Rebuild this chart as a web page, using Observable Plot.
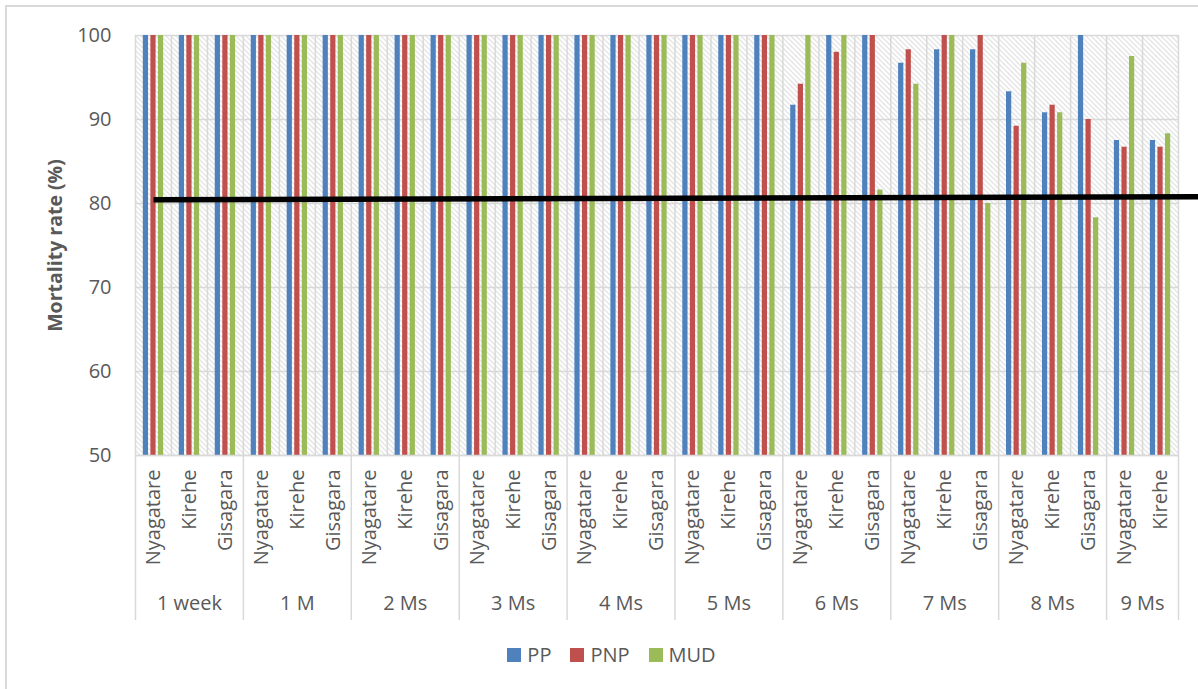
<!DOCTYPE html>
<html>
<head>
<meta charset="utf-8">
<script src="https://cdn.jsdelivr.net/npm/d3@7"></script>
<script src="https://cdn.jsdelivr.net/npm/@observablehq/plot@0.6"></script>
<style>
  body { margin: 0; background: #fff; overflow: hidden; font-family: "Open Sans", sans-serif; }
  #chart svg { display: block; }
  #legend { display: flex; justify-content: center; padding-left: 44px; margin-top: 3px; }
  .lg-swatch { margin-right: 19px !important; }
  .lg-swatch > svg { margin-right: 6px !important; }
  #border { position: absolute; left: 5px; top: 5px; width: 1400px; height: 900px;
            border-left: 2px solid #d9d9d9; border-top: 2px solid #d9d9d9; pointer-events: none; }
</style>
</head>
<body>
<div id="chart"></div>
<div id="legend"></div>
<div id="border"></div>
<script>
// Survey periods and the sites reported in each
const periods = ["1 week", "1 M", "2 Ms", "3 Ms", "4 Ms", "5 Ms", "6 Ms", "7 Ms", "8 Ms", "9 Ms"];
const sites = ["Nyagatare", "Kirehe", "Gisagara"];
const sitesReported = [3, 3, 3, 3, 3, 3, 3, 3, 3, 2];

// Treatments and their colours
const series = ["PP", "PNP", "MUD"];
const colors = ["#4F81BD", "#C0504D", "#9BBB59"];

// Mortality rate (%) per period/site, in category order
const pp = [100, 100, 100, 100, 100, 100, 100, 100, 100, 100, 100, 100, 100, 100, 100, 100, 100, 100,
            91.7, 100, 100, 96.7, 98.3, 98.3, 93.3, 90.8, 100, 87.5, 87.5];
const pnp = [100, 100, 100, 100, 100, 100, 100, 100, 100, 100, 100, 100, 100, 100, 100, 100, 100, 100,
             94.2, 98.0, 100, 98.3, 100, 100, 89.2, 91.7, 90.0, 86.7, 86.7];
const mud = [100, 100, 100, 100, 100, 100, 100, 100, 100, 100, 100, 100, 100, 100, 100, 100, 100, 100,
             100, 100, 81.6, 94.2, 100, 80.0, 96.7, 90.8, 78.3, 97.5, 88.3];

// Value axis
const yDomain = [50, 100];
const yTicks = [50, 60, 70, 80, 90, 100];

// Reference line (slightly sloped, hand-placed threshold near 80%)
const thresholdStart = 80.45;
const thresholdEnd = 80.8;

// ---- build tables ----
const categories = [];
periods.forEach((p, g) => {
  sites.slice(0, sitesReported[g]).forEach(s => categories.push({period: p, site: s, group: g, index: categories.length}));
});
const nCat = categories.length;

const groups = periods.map((p, g) => {
  const cs = categories.filter(c => c.group === g);
  return {period: p, start: cs[0].index, end: cs[cs.length - 1].index + 1};
});
const groupBounds = [0, ...groups.map(g => g.end)];

const valuesBySeries = {PP: pp, PNP: pnp, MUD: mud};
const bars = [];
series.forEach((s, k) => valuesBySeries[s].forEach((v, i) => bars.push({series: s, k, index: i, value: v})));

// bar placement inside each category slot
const barStep = 0.21, barWidth = 0.145;
const barX1 = d => d.index + 0.5 + (d.k - 1) * barStep - barWidth / 2;
const barX2 = d => barX1(d) + barWidth;

const grid = "#d9d9d9";
const textColor = "#595959";
const font = "'Open Sans', sans-serif";

const chart = Plot.plot({
  width: 1198,
  height: 635,
  marginLeft: 135,
  marginRight: 20,
  marginTop: 35,
  marginBottom: 180,
  style: {fontFamily: font, color: textColor, background: "transparent", overflow: "visible"},
  x: {type: "linear", domain: [0, nCat], axis: null},
  y: {domain: yDomain, label: null, axis: null},
  color: {domain: series, range: colors},
  marks: [
    Plot.frame({fill: "url(#hatch)", stroke: null}),
    Plot.gridY(yTicks, {stroke: grid, strokeOpacity: 1, strokeWidth: 1.5}),
    Plot.ruleX(d3.range(nCat + 1), {stroke: grid, strokeWidth: 1.5}),
    Plot.rectY(bars, {x1: barX1, x2: barX2, y1: yDomain[0], y2: "value", fill: "series", clip: true}),
    Plot.ruleY([yDomain[0]], {stroke: grid, strokeWidth: 1.5}),
    Plot.axisY({ticks: yTicks, tickSize: 0, tickPadding: 24, fontSize: 20, fill: textColor, label: null}),
    // separators between periods below the plot
    Plot.axisX({ticks: groupBounds, tickSize: 165, tickFormat: () => "", stroke: grid, strokeWidth: 1.5, strokeOpacity: 1, label: null}),
    // site labels (rotated)
    Plot.text(categories, {x: d => d.index + 0.5, y: yDomain[0], text: "site", rotate: -90, textAnchor: "end",
                           dy: 14, fontSize: 20, fill: textColor}),
    // period labels
    Plot.text(groups, {x: d => (d.start + d.end) / 2, y: yDomain[0], text: "period", dy: 148, fontSize: 20, fill: textColor}),
    // y title
    Plot.text(["Mortality rate (%)"], {frameAnchor: "left", rotate: -90, textAnchor: "middle", dx: -80,
                                       fontWeight: "bold", fontSize: 19.5, fill: textColor}),
    // threshold line
    Plot.link([{}], {x1: 0.5, x2: nCat + 0.6, y1: thresholdStart, y2: thresholdEnd, stroke: "#000", strokeWidth: 5.5})
  ]
});

// hatched plot background
const defs = d3.select(chart).insert("defs", ":first-child");
const pat = defs.append("pattern").attr("id", "hatch").attr("patternUnits", "userSpaceOnUse")
  .attr("width", 5).attr("height", 5);
pat.append("rect").attr("width", 5).attr("height", 5).attr("fill", "#fff");
pat.append("path").attr("d", "M-1,-1L6,6M-1,4L1,6M4,-1L6,1")
  .attr("stroke", "#cbcbcb").attr("stroke-width", 1);

document.getElementById("chart").appendChild(chart);

const legend = Plot.legend({
  color: {domain: series, range: colors},
  legend: "swatches",
  swatchSize: 14,
  className: "lg",
  style: {fontSize: "20px", fontFamily: font, color: textColor}
});
document.getElementById("legend").appendChild(legend);
</script>
</body>
</html>
